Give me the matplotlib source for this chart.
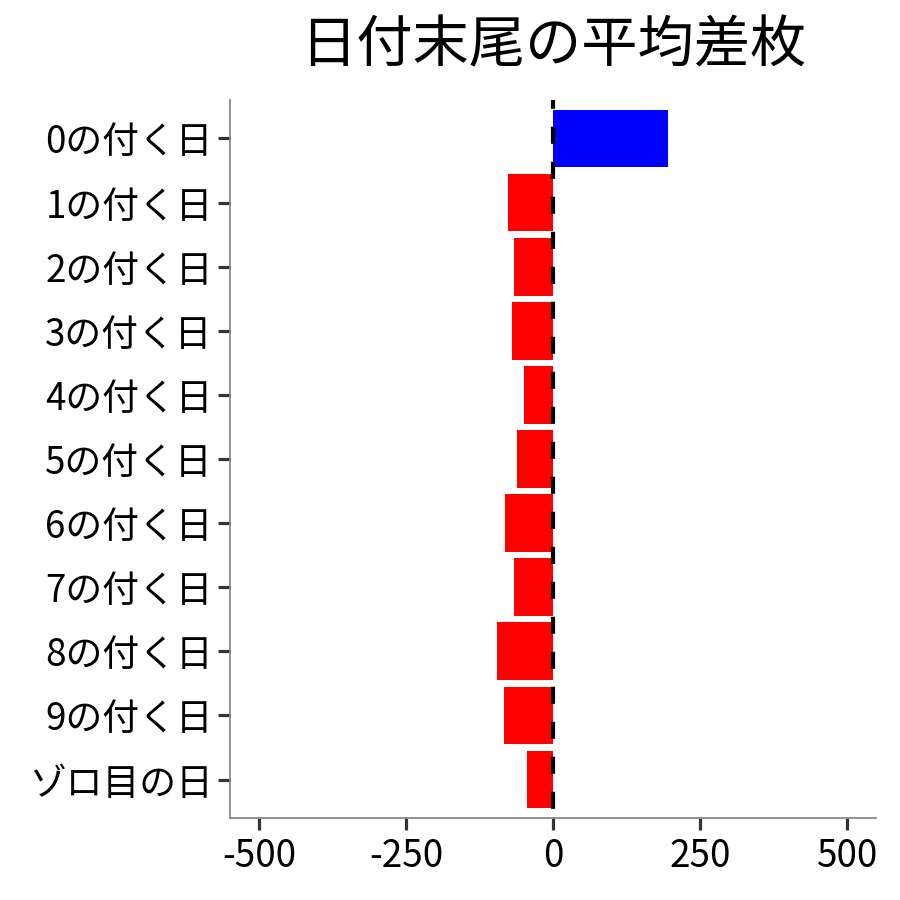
import matplotlib
matplotlib.use("Agg")
import matplotlib.pyplot as plt

plt.rcParams['font.family'] = ['Noto Sans CJK JP', 'DejaVu Sans']

categories = ["0の付く日", "1の付く日", "2の付く日", "3の付く日", "4の付く日",
              "5の付く日", "6の付く日", "7の付く日", "8の付く日", "9の付く日", "ゾロ目の日"]
values = [196, -76, -66, -69, -50, -62, -81, -66, -95, -84, -45]
xticks = [-500, -250, 0, 250, 500]
title = "日付末尾の平均差枚"

fig = plt.figure(figsize=(9, 9), dpi=100)
ax = fig.add_axes([230/900, 82/900, 646/900, 718/900])

ypos = list(range(len(categories)))
colors = ["blue" if v > 0 else "red" for v in values]
ax.barh(ypos, values, height=0.9, color=colors, zorder=2)
ax.axvline(0, color="black", linewidth=3.0, linestyle=(6.2, (4.1, 4.3)), zorder=3)

ax.set_ylim(len(categories) - 0.4, -0.6)
ax.set_xlim(-549, 549)
ax.set_yticks(ypos)
ax.set_yticklabels(categories)
ax.set_xticks(xticks)
ax.set_xticklabels([str(t) for t in xticks])

for s in ["top", "right"]:
    ax.spines[s].set_visible(False)
for s in ["left", "bottom"]:
    ax.spines[s].set_color("#7f7f7f")
    ax.spines[s].set_linewidth(1.2)

ax.tick_params(axis="both", length=8.5, width=2.3, color="#333333",
               labelsize=26.5, labelcolor="black", pad=4)
ax.tick_params(axis="x", pad=5)
ax.set_title(title, fontsize=40.5, pad=27)

fig.savefig("out.png", dpi=100, facecolor="white")
